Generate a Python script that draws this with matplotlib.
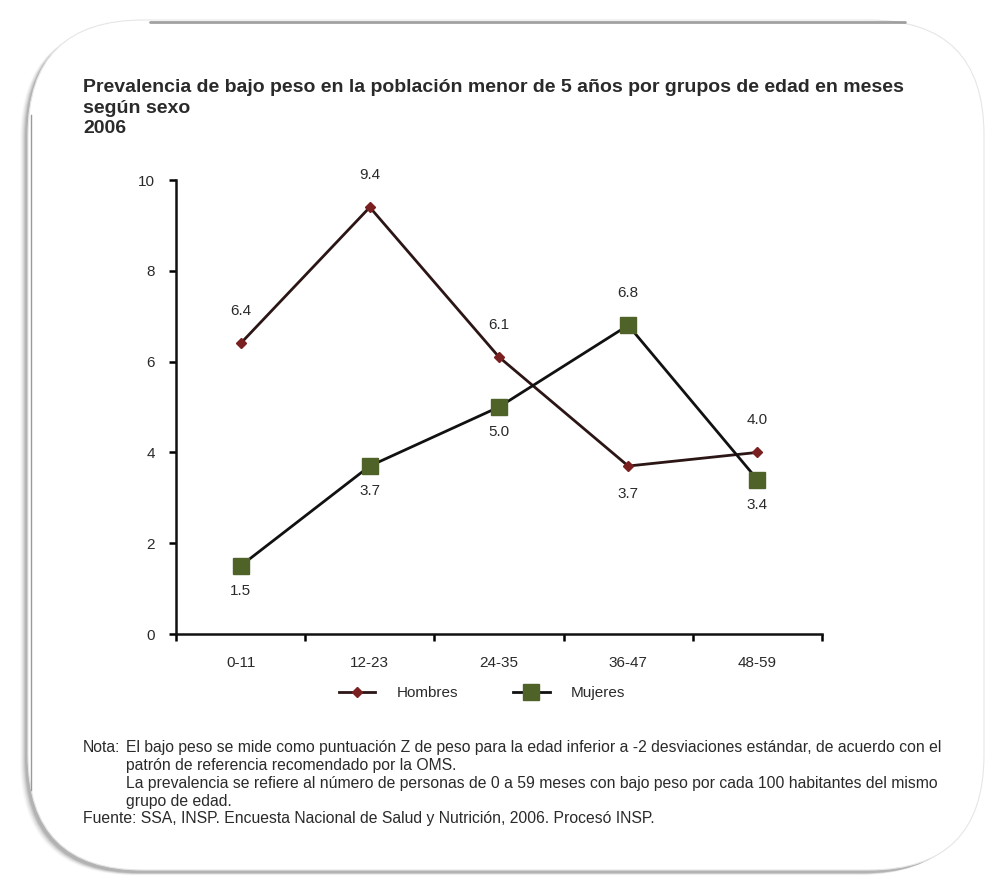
import matplotlib
matplotlib.use("Agg")
import matplotlib.pyplot as plt
from matplotlib.patches import FancyBboxPatch

# Prevalencia de bajo peso (%) por grupo de edad
grupos = ["0-11", "12-23", "24-35", "36-47", "48-59"]
hombres = [6.4, 9.4, 6.1, 3.7, 4.0]
mujeres = [1.5, 3.7, 5.0, 6.8, 3.4]
# +1 = etiqueta arriba del punto, -1 = abajo
pos_hombres = [1, 1, 1, -1, 1]
pos_mujeres = [-1, -1, -1, 1, -1]
yticks = [0, 2, 4, 6, 8, 10]

nota = [
    "El bajo peso se mide como puntuación Z de peso para la edad inferior a -2 desviaciones estándar, de acuerdo con el",
    "patrón de referencia recomendado por la OMS.",
    "La prevalencia se refiere al número de personas de 0 a 59 meses con bajo peso por cada 100 habitantes del mismo",
    "grupo de edad.",
]
fuente = "Fuente: SSA, INSP. Encuesta Nacional de Salud y Nutrición, 2006. Procesó INSP."

W, H = 990, 884
C_HOM = "#7b2020"
C_HOM_LINE = "#2b1515"
C_MUJ = "#4f6228"
C_TXT = "#2a2a2a"
FONT = "Liberation Sans"

fig = plt.figure(figsize=(W / 100, H / 100), dpi=100)
fig.patch.set_facecolor("white")


def px(x, y):
    return x / W, 1 - y / H


# marco redondeado con sombra hacia abajo a la izquierda
bg = fig.add_axes([0, 0, 1, 1], zorder=-5)
bg.set_xlim(0, W)
bg.set_ylim(H, 0)
bg.axis("off")
for i, a in enumerate([0.04, 0.06, 0.08, 0.11, 0.15, 0.20]):
    off = 8 - i
    bg.add_patch(FancyBboxPatch((28 - off, 22 + off * 0.4), 954, 850,
                                boxstyle="round,pad=0,rounding_size=115",
                                facecolor="#6a6a6a", edgecolor="none", alpha=a))
bg.add_patch(FancyBboxPatch((28, 20), 956, 850,
                            boxstyle="round,pad=0,rounding_size=115",
                            facecolor="white", edgecolor="#e6e6e6", linewidth=0.8))
bg.plot([150, 905], [22, 22], color="#8a8a8a", lw=2.0, alpha=0.8,
        solid_capstyle="round")
bg.plot([31, 31], [115, 790], color="#9a9a9a", lw=1.0)

ax = fig.add_axes([176 / W, 1 - 634 / H, (822 - 176) / W, (634 - 180) / H])
x = list(range(len(grupos)))

ax.plot(x, hombres, color=C_HOM_LINE, lw=2.0, marker="D", ms=5.5,
        mfc=C_HOM, mec=C_HOM, label="Hombres", zorder=3)
ax.plot(x, mujeres, color="#111111", lw=2.0, marker="s", ms=11,
        mfc=C_MUJ, mec=C_MUJ, label="Mujeres", zorder=3)

for vals, pos, up, dn in [(hombres, pos_hombres, 23, -20),
                          (mujeres, pos_mujeres, 23, -18)]:
    for xi, v, p in zip(x, vals, pos):
        ax.annotate(f"{v:.1f}", (xi, v), xytext=(0, up if p > 0 else dn),
                    textcoords="offset points", ha="center", va="center",
                    fontsize=11, color=C_TXT, family=FONT)

ax.set_xlim(-0.5, len(grupos) - 0.5)
ax.set_ylim(0, 10)
ax.set_yticks(yticks)
ax.set_yticklabels([str(t) for t in yticks], fontsize=11, color=C_TXT, family=FONT)
ax.set_xticks(x)
ax.set_xticklabels(grupos, fontsize=11, color=C_TXT, family=FONT)
ax.set_xticks([i - 0.5 for i in range(len(grupos) + 1)], minor=True)
ax.tick_params(axis="x", which="major", length=0, pad=16)
ax.tick_params(axis="x", which="minor", length=5, width=1.8, direction="out")
ax.tick_params(axis="y", length=5, width=1.8, direction="out", pad=10)
for s in ["top", "right"]:
    ax.spines[s].set_visible(False)
for s in ["left", "bottom"]:
    ax.spines[s].set_linewidth(1.8)
    ax.spines[s].set_color("#111111")
ax.set_facecolor("none")

fig.legend(loc="center", bbox_to_anchor=px(482, 693), ncol=2, frameon=False,
           handlelength=2.4, columnspacing=3.6, handletextpad=1.4,
           prop={"family": FONT, "size": 11}, labelcolor=C_TXT)

fig.text(*px(83, 79), "Prevalencia de bajo peso en la población menor de 5 años por grupos de edad en meses\n"
         "según sexo\n2006", ha="left", va="top", fontsize=14, fontweight="bold",
         color=C_TXT, family=FONT, linespacing=1.28)

# nota al pie, una línea a la vez sobre la línea base
fig.text(*px(83, 752), "Nota:", ha="left", va="baseline", fontsize=11.3,
         color=C_TXT, family=FONT)
for linea, yl in zip(nota, [752, 770, 788, 806]):
    fig.text(*px(126, yl), linea, ha="left", va="baseline", fontsize=11.3,
             color=C_TXT, family=FONT)
fig.text(*px(83, 823), fuente, ha="left", va="baseline", fontsize=11.3,
         color=C_TXT, family=FONT)

fig.savefig("out.png", dpi=100, facecolor="white")
